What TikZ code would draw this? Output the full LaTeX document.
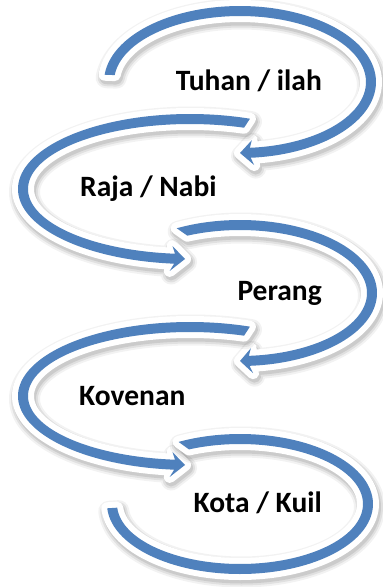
\documentclass[tikz,border=0pt]{standalone}
\usepackage{fontspec}
\setmainfont{Carlito}
\definecolor{arrowblue}{RGB}{79,129,189}

% half width of the band and of the arrow head
\def\bw{5}
\def\hw{12.5}

% closed outline of an elliptic band ending in a notched head
% #1 cx  #2 cy  #3 rx  #4 ry  #5 outer tail angle  #6 inner tail angle
% #7 angle where the band meets the head  #8 barb angle  #9 tip angle
\newcommand{\headband}[9]{%
  plot[domain=#5:#7] ({#1+(#3+\bw)*cos(\x)},{#2+(#4+\bw)*sin(\x)})
  -- ({#1+(#3+\hw)*cos(#8)},{#2+(#4+\hw)*sin(#8)})
  -- ({#1+#3*cos(#9)},{#2+#4*sin(#9)})
  -- ({#1+(#3-\hw)*cos(#8)},{#2+(#4-\hw)*sin(#8)})
  -- plot[domain=#7:#6] ({#1+(#3-\bw)*cos(\x)},{#2+(#4-\bw)*sin(\x)})
  -- cycle}

% closed outline of a plain elliptic band
% #1 cx  #2 cy  #3 rx  #4 ry  #5 outer tail  #6 inner tail  #7 end angle
\newcommand{\plainband}[7]{%
  plot[domain=#5:#7] ({#1+(#3+\bw)*cos(\x)},{#2+(#4+\bw)*sin(\x)})
  -- plot[domain=#7:#6] ({#1+(#3-\bw)*cos(\x)},{#2+(#4-\bw)*sin(\x)})
  -- cycle}

% soft shadow, white rim and blue body of the current band
\newcommand{\drawband}{%
  \begin{scope}[xshift=1.5pt,yshift=-3pt]
    \draw[black,opacity=0.05,line width=21pt,line join=round] \curpath;
    \draw[black,opacity=0.07,line width=17pt,line join=round] \curpath;
    \draw[black,opacity=0.09,line width=13pt,line join=round] \curpath;
  \end{scope}
  \draw[white,line width=12pt,line join=round] \curpath;
  \fill[arrowblue] \curpath;
}

\tikzset{
  label/.style={font=\bfseries\fontsize{29.5}{34}\selectfont,inner sep=0pt,text=black},
  lefttext/.style={label,anchor=base west},
  righttext/.style={label,anchor=base east}
}

\begin{document}
\begin{tikzpicture}[x=1pt,y=-1pt,samples=120]
\useasboundingbox (0,0) rectangle (383,587);
\fill[white] (0,0) rectangle (383,587);

% first loop, clockwise, head at the bottom
\def\curpath{\headband{240}{82}{131}{71}{185.5}{186}{445.5}{444.3}{450}}
\drawband
% second loop, anticlockwise
\def\curpath{\headband{190}{189}{167}{70}{290.4}{289.5}{95.3}{96.5}{91.7}}
\drawband
% third loop, clockwise
\def\curpath{\headband{240}{293}{132}{68}{242.5}{245.5}{446}{444.8}{450}}
\drawband
% fourth loop, anticlockwise
\def\curpath{\headband{190}{396}{167}{69}{290.4}{289.5}{95.3}{96.5}{91.7}}
\drawband
% last loop, clockwise, open end
\def\curpath{\plainband{240}{504}{128}{65}{242.5}{245.5}{536.5}}
\drawband

\node[righttext] (t1) at (322,90) {Tuhan / ilah};
\node[lefttext]  (t2) at (80,196) {Raja / Nabi};
\node[righttext] (t3) at (322,300) {Perang};
\node[lefttext]  (t4) at (79,405) {Kovenan};
\node[righttext] (t5) at (322,512) {Kota / Kuil};
\end{tikzpicture}
\end{document}
